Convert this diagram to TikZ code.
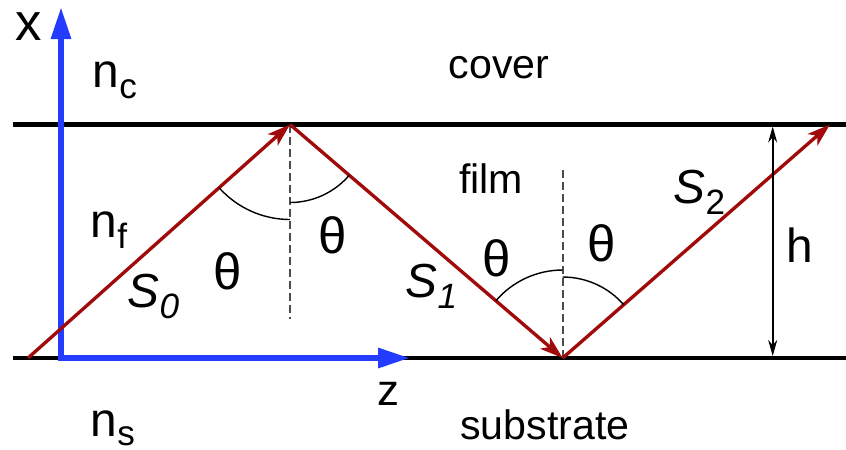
\documentclass[tikz,border=0pt]{standalone}
\usepackage{fontspec}
\setmainfont{Liberation Sans}
\usetikzlibrary{calc, arrows.meta}
\definecolor{axisblue}{RGB}{35,60,255}
\definecolor{raydark}{RGB}{160,10,10}
\newcommand{\lowsub}[2][3.4pt]{\raisebox{-#1}{\fontsize{10}{10}\selectfont #2}}

\begin{document}
\begin{tikzpicture}[
  interface/.style = {line width = 1.2pt},
  axis/.style = {draw = axisblue, line width = 1.7pt, line join = miter},
  ray/.style = {draw = raydark, line width = 0.95pt, -{Stealth[length = 2.3mm, width = 1.5mm, inset = 0.6mm]}},
  normal/.style = {draw = black!70, line width = 0.45pt, dash pattern = on 0.8mm off 0.4mm},
  angarc/.style = {line width = 0.4pt},
  lbl/.style = {inner sep = 0pt, font = \fontsize{11.7}{14}\selectfont},
  biglbl/.style = {inner sep = 0pt, font = \fontsize{13.6}{16}\selectfont},
  thlbl/.style = {inner sep = 0pt, font = \fontsize{14.5}{17}\selectfont},
]
\useasboundingbox (0,0) rectangle (8.46,4.49);
\def\yBot{0.91}
\def\yTop{3.245}

%interfaces
\path (0.13,\yBot) coordinate (L1) (8.46,\yBot) coordinate (R1);
\path (0.13,\yTop) coordinate (L2) (8.46,\yTop) coordinate (R2);
\draw[interface] (L1) -- (R1);
\draw[interface] (L2) -- (R2);

%axes
\path (0.61,\yBot) coordinate (O);
\path (O) -- ++(0,3.51) coordinate (xTip);
\path (O) -- ++(3.49,0) coordinate (zTip);
\draw[axis, {Triangle[length = 3.2mm, width = 1.9mm]}-{Triangle[length = 3.2mm, width = 1.9mm]}] (xTip) -- (O) -- (zTip);

%zigzag ray
\path (0.28,\yBot) coordinate (A);
\path (2.90,\yTop) coordinate (B);
\path (5.627,\yBot) coordinate (C);
\path (8.30,\yTop) coordinate (D);
\draw[normal] (B) -- ++(0,-1.94) coordinate (nB);
\draw[normal] (C) -- ++(0,1.88) coordinate (nC);
\draw[ray] (A) -- (B);
\draw[ray] (B) -- (C);
\draw[ray] (C) -- (D);

%angles
\draw[angarc] (B) ++(221.7:0.95) arc[start angle = 221.7, end angle = 270, radius = 0.95];
\draw[angarc] (B) ++(270:0.78) arc[start angle = 270, end angle = 319.4, radius = 0.78];
\draw[angarc] (C) ++(139.4:0.88) arc[start angle = 139.4, end angle = 90, radius = 0.88];
\draw[angarc] (C) ++(90:0.81) arc[start angle = 90, end angle = 41.1, radius = 0.81];

%thickness
\path (7.727,3.225) coordinate (hTop);
\path (7.727,0.93) coordinate (hBot);
\draw[line width = 0.5pt, {Stealth[length = 1.6mm, width = 0.9mm]}-{Stealth[length = 1.6mm, width = 0.9mm]}] (hTop) -- (hBot);

%label
\node (xLbl) at (0.285,4.09) [biglbl, anchor = base, font = \fontsize{15}{18}\selectfont] {x};
\node (zLbl) at (3.88,0.44) [biglbl, anchor = base, font = \fontsize{12.5}{15}\selectfont] {z};
\node (hLbl) at (8.00,1.87) [biglbl, anchor = base] {h};
\node (nc) at (0.92,3.62) [biglbl, anchor = base west] {n\lowsub{c}};
\node (nf) at (0.90,2.12) [biglbl, anchor = base west] {n\lowsub{f}};
\node (ns) at (0.90,0.13) [biglbl, anchor = base west] {n\lowsub[2.8pt]{s}};
\node (cover) at (4.99,3.71) [lbl, anchor = base] {cover};
\node (film) at (4.91,2.56) [lbl, anchor = base] {film};
\node (substrate) at (5.45,0.10) [lbl, anchor = base] {substrate};
\node (th1) at (2.28,1.78) [thlbl] {θ};
\node (th2) at (3.33,2.14) [thlbl] {θ};
\node (th3) at (4.97,1.91) [thlbl] {θ};
\node (th4) at (6.02,2.06) [thlbl] {θ};
\node (S0) at (1.27,1.42) [biglbl, anchor = base west] {\textit{S}\lowsub{\textit{0}}};
\node (S1) at (4.05,1.52) [biglbl, anchor = base west] {\textit{S}\lowsub{\textit{1}}};
\node (S2) at (6.73,2.46) [biglbl, anchor = base west] {\textit{S}\lowsub{2}};

\end{tikzpicture}
\end{document}
